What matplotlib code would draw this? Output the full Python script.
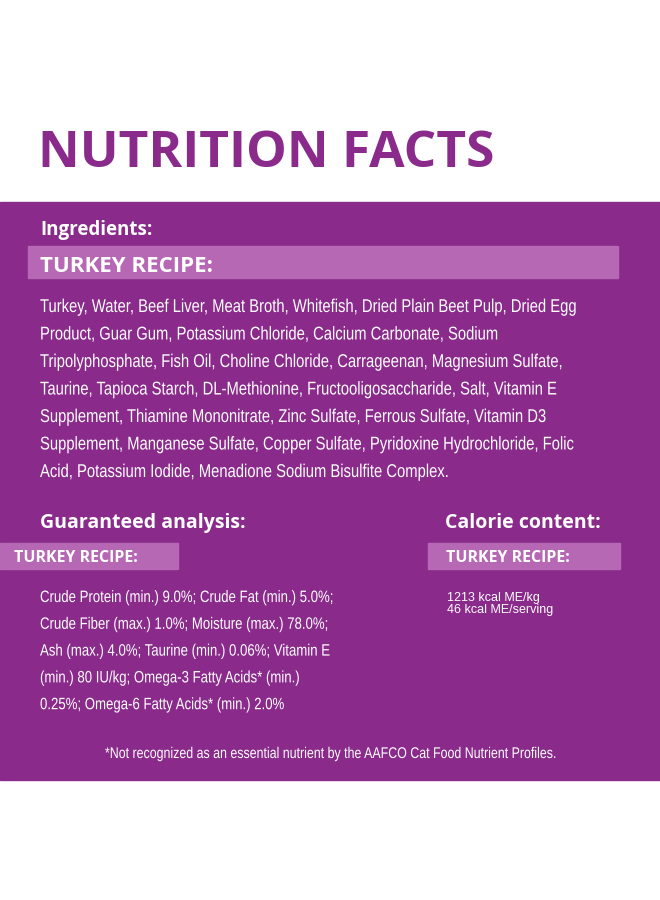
import matplotlib
matplotlib.use('agg')
import matplotlib.pyplot as plt
from matplotlib.patches import Rectangle, PathPatch
from matplotlib.textpath import TextPath
from matplotlib.font_manager import FontProperties
from matplotlib.transforms import Affine2D

PURPLE = "#8a2a8b"
BAND = "#b768b4"
bold = ["Open Sans", "DejaVu Sans"]

title = "NUTRITION FACTS"
recipe = "TURKEY RECIPE:"
ingredient_lines = [
    "Turkey, Water, Beef Liver, Meat Broth, Whitefish, Dried Plain Beet Pulp, Dried Egg",
    "Product, Guar Gum, Potassium Chloride, Calcium Carbonate, Sodium",
    "Tripolyphosphate, Fish Oil, Choline Chloride, Carrageenan, Magnesium Sulfate,",
    "Taurine, Tapioca Starch, DL-Methionine, Fructooligosaccharide, Salt, Vitamin E",
    "Supplement, Thiamine Mononitrate, Zinc Sulfate, Ferrous Sulfate, Vitamin D3",
    "Supplement, Manganese Sulfate, Copper Sulfate, Pyridoxine Hydrochloride, Folic",
    "Acid, Potassium Iodide, Menadione Sodium Bisulfite Complex.",
]
analysis_lines = [
    "Crude Protein (min.) 9.0%; Crude Fat (min.) 5.0%;",
    "Crude Fiber (max.) 1.0%; Moisture (max.) 78.0%;",
    "Ash (max.) 4.0%; Taurine (min.) 0.06%; Vitamin E",
    "(min.) 80 IU/kg; Omega-3 Fatty Acids* (min.)",
    "0.25%; Omega-6 Fatty Acids* (min.) 2.0%",
]
calorie_lines = ["1213 kcal ME/kg", "46 kcal ME/serving"]
footnote = "*Not recognized as an essential nutrient by the AAFCO Cat Food Nutrient Profiles."

fig = plt.figure(figsize=(6.6, 9), dpi=100)
ax = fig.add_axes([0, 0, 1, 1])
ax.set_xlim(0, 660)
ax.set_ylim(900, 0)
ax.axis("off")

narrow_prop = FontProperties(family="Liberation Sans")


def narrow_text(x, y, s, size, sx=0.8, center=False):
    # condensed text: draw the glyph outlines squeezed horizontally
    tp = TextPath((0, 0), s, size=size, prop=narrow_prop)
    if center:
        ext = tp.get_extents()
        x = x - ext.width * sx / 2
    tr = Affine2D().scale(sx, -1).translate(x, y) + ax.transData
    ax.add_patch(PathPatch(tp, transform=tr, facecolor="white", edgecolor="none"))


ax.text(38, 167, title, color=PURPLE, fontsize=37, fontweight="bold",
        family=bold, va="baseline")
ax.add_patch(Rectangle((0, 202), 660, 578, color=PURPLE))

ax.text(40, 235, "Ingredients:", color="white", fontsize=13.5, fontweight="bold",
        family=bold, va="baseline")
ax.add_patch(Rectangle((28, 246), 590, 32, color=BAND))
ax.text(40, 272, recipe, color="white", fontsize=16, fontweight="bold",
        family=bold, va="baseline")
for i, line in enumerate(ingredient_lines):
    narrow_text(40, 312 + i * 27.5, line, 18.5, sx=0.8)

ax.text(40, 528, "Guaranteed analysis:", color="white", fontsize=14, fontweight="bold",
        family=bold, va="baseline")
ax.text(445, 528, "Calorie content:", color="white", fontsize=14, fontweight="bold",
        family=bold, va="baseline")
ax.add_patch(Rectangle((0, 543), 178, 26, color=BAND))
ax.add_patch(Rectangle((428, 543), 192, 26, color=BAND))
ax.text(14, 562, recipe, color="white", fontsize=11.5, fontweight="bold",
        family=bold, va="baseline")
ax.text(446, 562, recipe, color="white", fontsize=11.5, fontweight="bold",
        family=bold, va="baseline")
for i, line in enumerate(analysis_lines):
    narrow_text(40, 602 + i * 26.8, line, 16.5, sx=0.8)
for i, line in enumerate(calorie_lines):
    ax.text(447, 601 + i * 12.5, line, color="white", fontsize=9,
            family=["Liberation Sans", "DejaVu Sans"], va="baseline")

narrow_text(330, 758, footnote, 15.5, sx=0.8, center=True)

fig.savefig("out.png", dpi=100)
